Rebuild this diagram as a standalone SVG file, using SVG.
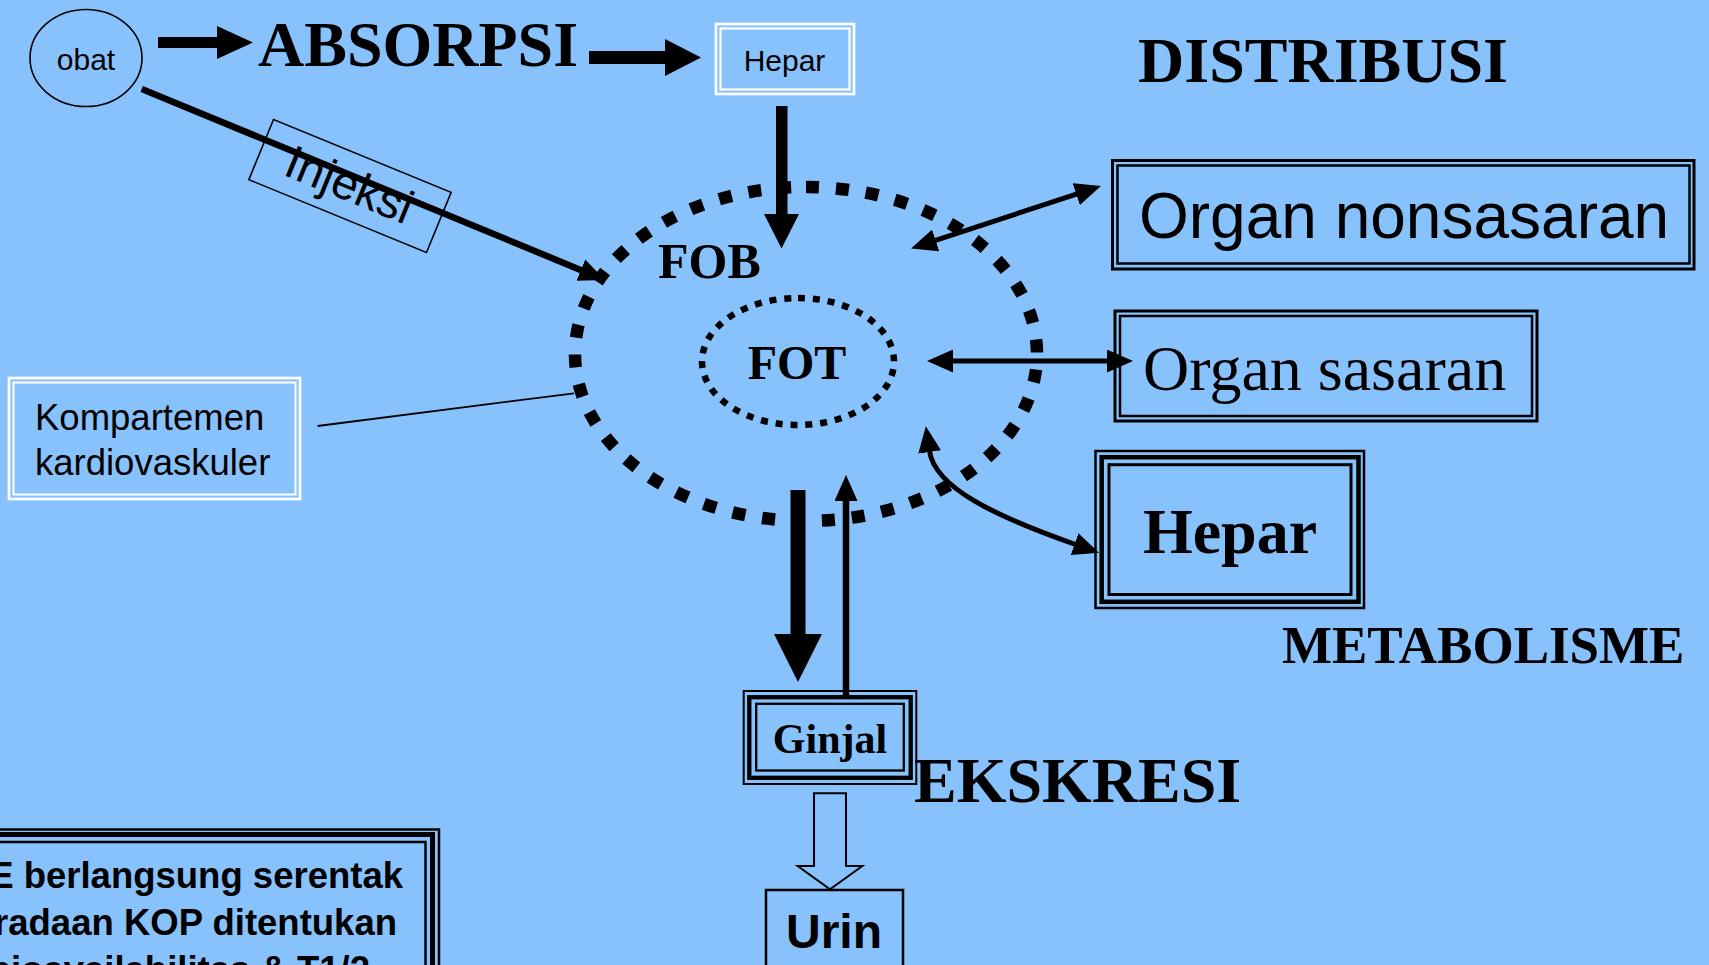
<svg xmlns="http://www.w3.org/2000/svg" width="1709" height="965" viewBox="0 0 1709 965">
  <style>
    .serif-b { font-family: "Liberation Serif", "Times New Roman", serif; font-weight: bold; fill: #000; }
    .serif { font-family: "Liberation Serif", "Times New Roman", serif; fill: #000; }
    .sans { font-family: "Liberation Sans", Arial, sans-serif; fill: #000; }
    .sans-b { font-family: "Liberation Sans", Arial, sans-serif; font-weight: bold; fill: #000; }
    .frame-w { fill: none; stroke: #fff; }
    .frame-k { fill: none; stroke: #000; }
    .conn { fill: none; stroke: #000; }
    .block { fill: #000; stroke: none; }
  </style>
  <defs>
    <marker id="ah" viewBox="0 -11.5 26 23" refX="1" refY="0" markerWidth="26" markerHeight="23" markerUnits="userSpaceOnUse" orient="auto-start-reverse">
      <path d="M0,-11.5 L26,0 L0,11.5 z" fill="#000"/>
    </marker>
  </defs>

  <!-- background -->
  <rect x="0" y="0" width="1709" height="965" fill="#88C2FC"/>

  <!-- compartments: blood (FOB) and target (FOT) -->
  <g id="fob">
    <path d="M806,187 A231,167 0 1 1 806,521 A231,167 0 1 1 806,187" fill="none" stroke="#000" stroke-width="12.5" stroke-dasharray="13 17"/>
    <text class="serif-b" x="658" y="278" font-size="50">FOB</text>
  </g>
  <g id="fot">
    <path d="M798,298 A96,63.5 0 1 1 798,425 A96,63.5 0 1 1 798,298" fill="none" stroke="#000" stroke-width="6.5" stroke-dasharray="7 7.9"/>
    <text class="serif-b" x="797" y="379" font-size="48" text-anchor="middle">FOT</text>
  </g>

  <!-- nodes -->
  <g id="obat">
    <ellipse cx="86" cy="58" rx="56" ry="48.5" fill="none" stroke="#000" stroke-width="1.6"/>
    <text class="sans" x="86" y="70" font-size="30" text-anchor="middle">obat</text>
  </g>

  <g id="absorpsi">
    <text class="serif-b" x="258" y="66" font-size="64">ABSORPSI</text>
  </g>

  <g id="hepar-portal">
    <rect class="frame-w" x="716" y="24" width="138" height="70" stroke-width="2.7"/>
    <rect class="frame-w" x="720.5" y="28.5" width="129" height="61" stroke-width="2.2"/>
    <text class="sans" x="784.5" y="70.5" font-size="30" text-anchor="middle">Hepar</text>
  </g>

  <g id="distribusi">
    <text class="serif-b" x="1138" y="81.5" font-size="64">DISTRIBUSI</text>
  </g>

  <g id="injeksi">
    <g transform="rotate(22.3 350 186)">
      <rect x="254" y="153.5" width="192" height="65" fill="none" stroke="#000" stroke-width="1.6"/>
      <text class="sans" x="349" y="201" font-size="47" text-anchor="middle">Injeksi</text>
    </g>
  </g>

  <g id="organ-nonsasaran">
    <rect class="frame-k" x="1112.5" y="160.5" width="581.5" height="108.5" stroke-width="3"/>
    <rect class="frame-k" x="1117.5" y="165.5" width="572" height="98" stroke-width="2.5"/>
    <text class="sans" x="1139" y="238" font-size="64">Organ nonsasaran</text>
  </g>

  <g id="organ-sasaran">
    <rect class="frame-k" x="1115" y="311" width="422" height="110" stroke-width="3"/>
    <rect class="frame-k" x="1120" y="316" width="412" height="100" stroke-width="2.5"/>
    <text class="serif" x="1143" y="390" font-size="64">Organ sasaran</text>
  </g>

  <g id="kompartemen">
    <rect class="frame-w" x="9" y="378" width="291" height="121" stroke-width="2.7"/>
    <rect class="frame-w" x="13.5" y="382.5" width="282" height="112" stroke-width="2"/>
    <text class="sans" x="35" y="430" font-size="36.5">Kompartemen</text>
    <text class="sans" x="35" y="475" font-size="36.5">kardiovaskuler</text>
  </g>

  <g id="hepar-metabolisme">
    <rect class="frame-k" x="1095.5" y="451" width="268.5" height="157" stroke-width="2.5"/>
    <rect class="frame-k" x="1101.7" y="457.2" width="256.8" height="144.6" stroke-width="4.5"/>
    <rect class="frame-k" x="1109" y="464.7" width="242" height="129.8" stroke-width="3"/>
    <text class="serif-b" x="1230" y="553" font-size="64" text-anchor="middle">Hepar</text>
  </g>

  <g id="metabolisme">
    <text class="serif-b" x="1282" y="663" font-size="53">METABOLISME</text>
  </g>

  <g id="ginjal">
    <rect class="frame-k" x="743.7" y="691" width="172.6" height="93" stroke-width="2"/>
    <rect class="frame-k" x="749.3" y="697.2" width="161.4" height="80.6" stroke-width="4.3"/>
    <rect class="frame-k" x="756.2" y="703.8" width="147.6" height="66.7" stroke-width="2.3"/>
    <text class="serif-b" x="830" y="753" font-size="42" text-anchor="middle">Ginjal</text>
  </g>

  <g id="ekskresi">
    <text class="serif-b" x="914" y="802" font-size="64">EKSKRESI</text>
  </g>

  <g id="urin">
    <rect class="frame-k" x="766" y="890" width="137" height="100" stroke-width="2.5"/>
    <text class="sans-b" x="834" y="948" font-size="48" text-anchor="middle">Urin</text>
  </g>

  <g id="catatan">
    <rect class="frame-k" x="-40" y="829.5" width="479" height="200" stroke-width="2.5"/>
    <rect class="frame-k" x="-40" y="834.5" width="472.5" height="200" stroke-width="5"/>
    <rect class="frame-k" x="-40" y="842" width="465.5" height="200" stroke-width="2.5"/>
    <text class="sans-b" x="403" y="888" font-size="36.5" text-anchor="end">E berlangsung serentak</text>
    <text class="sans-b" x="397" y="935" font-size="36.5" text-anchor="end">radaan KOP ditentukan</text>
    <text class="sans-b" x="370" y="982" font-size="36.5" text-anchor="end">bioavailabilitas &amp; T1/2</text>
  </g>

  <!-- connectors -->
  <g id="connectors">
    <!-- obat to ABSORPSI -->
    <polygon class="block" points="158,37 217,37 217,26 253,42.5 217,59 217,48 158,48"/>
    <!-- ABSORPSI to portal liver -->
    <polygon class="block" points="589,51 665,51 665,39 701,57.5 665,76 665,64 589,64"/>
    <!-- liver into blood -->
    <polygon class="block" points="776,106 787.5,106 787.5,214 799,214 781.5,248.5 764,214 776,214"/>
    <!-- injection straight into blood -->
    <line class="conn" x1="141.7" y1="89" x2="581.8" y2="270.4" stroke-width="6.5" marker-end="url(#ah)"/>
    <!-- blood to non-target organs -->
    <line class="conn" x1="934.8" y1="240.7" x2="1077.2" y2="193.8" stroke-width="5" marker-start="url(#ah)" marker-end="url(#ah)"/>
    <!-- target site to target organ -->
    <line class="conn" x1="952" y1="361" x2="1108" y2="361" stroke-width="5" marker-start="url(#ah)" marker-end="url(#ah)"/>
    <!-- blood to liver (metabolism) -->
    <path class="conn" d="M929.5,451 C935,488 995,516 1075.5,544.5" stroke-width="5" marker-start="url(#ah)" marker-end="url(#ah)"/>
    <!-- cardiovascular compartment pointer -->
    <line class="conn" x1="317.6" y1="426" x2="574" y2="393.3" stroke-width="1.8"/>
    <!-- blood to kidney -->
    <polygon class="block" points="790.5,490 805.5,490 805.5,634 822,634 798,682 774,634 790.5,634"/>
    <!-- kidney back to blood (reabsorption) -->
    <line class="conn" x1="846" y1="695" x2="846" y2="500" stroke-width="6.5" marker-end="url(#ah)"/>
    <!-- kidney to urine -->
    <polygon points="814,793.3 846,793.3 846,866 862.3,866 830,889.3 797.7,866 814,866" fill="none" stroke="#000" stroke-width="2"/>
  </g>
</svg>
